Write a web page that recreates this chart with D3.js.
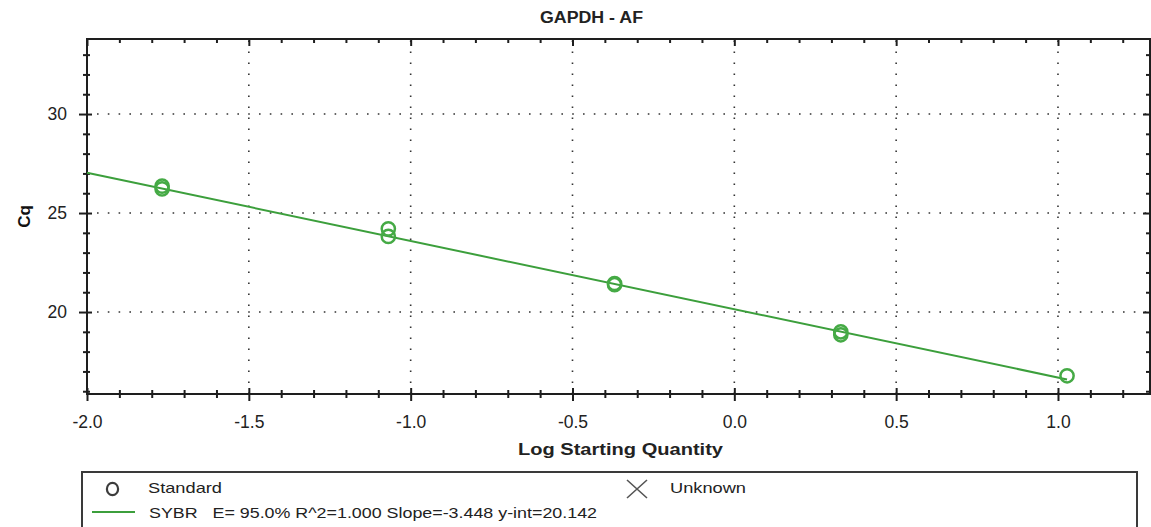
<!DOCTYPE html>
<html>
<head>
<meta charset="utf-8">
<script src="https://cdn.jsdelivr.net/npm/d3@7"></script>
<style>
  html, body { margin: 0; padding: 0; background: #fff; }
  svg { display: block; font-family: "Liberation Sans", Arial, sans-serif; }
</style>
</head>
<body>
<svg id="chart" width="1151" height="527"></svg>
<script>
// ---- data ----
const title = "GAPDH - AF";
const xLabel = "Log Starting Quantity";
const yLabel = "Cq";
const logQty = [-1.768, -1.768, -1.069, -1.069, -0.370, -0.370, 0.329, 0.329, 1.028];
const cqValues = [26.36, 26.22, 24.20, 23.82, 21.44, 21.38, 19.00, 18.85, 16.78];
const fitSlope = -3.448;
const fitIntercept = 20.142;
const xMajorTicks = [-2.0, -1.5, -1.0, -0.5, 0.0, 0.5, 1.0];
const xMinorTicks = [-1.9,-1.8,-1.7,-1.6,-1.4,-1.3,-1.2,-1.1,-0.9,-0.8,-0.7,-0.6,-0.4,-0.3,-0.2,-0.1,0.1,0.2,0.3,0.4,0.6,0.7,0.8,0.9,1.1,1.2];
const yMajorTicks = [20, 25, 30];
const yMinorTicks = [16,17,18,19,21,22,23,24,26,27,28,29,31,32,33];
const legendStandard = "Standard";
const legendUnknown = "Unknown";
const legendFit = "SYBR   E= 95.0% R^2=1.000 Slope=-3.448 y-int=20.142";

// ---- layout ----
const L = 87, R = 1150, T = 39, B = 394;
const svg = d3.select("#chart");
const x = d3.scaleLinear().domain([-2.0, 1.2843]).range([L, R]);
const y = d3.scaleLinear().domain([15.86, 33.79]).range([B, T]);
const axisColor = "#1e1e1e";
const green = "#3c9f3c";
const fmtX = d => d.toFixed(1);

// grid (dotted)
const grid = svg.append("g");
grid.selectAll("line.gx").data(xMajorTicks.filter(d => d > -2)).join("line")
  .attr("x1", d => x(d)).attr("x2", d => x(d)).attr("y1", B).attr("y2", T)
  .attr("stroke", "#333").attr("stroke-width", 1.6).attr("stroke-dasharray", "1.6,9.4");
grid.selectAll("line.gy").data(yMajorTicks).join("line")
  .attr("x1", L + 10).attr("x2", R).attr("y1", d => y(d)).attr("y2", d => y(d))
  .attr("stroke", "#333").attr("stroke-width", 1.6).attr("stroke-dasharray", "1.6,9.2");

// frame
svg.append("rect").attr("x", L).attr("y", T).attr("width", R - L).attr("height", B - T)
  .attr("fill", "none").attr("stroke", axisColor).attr("stroke-width", 2);

// bottom axis: labels + crossing ticks
const bMaj = svg.append("g").attr("transform", `translate(0,${B})`)
  .call(d3.axisBottom(x).tickValues(xMajorTicks).tickSize(6).tickFormat(fmtX));
bMaj.select(".domain").remove();
bMaj.selectAll(".tick line").attr("y1", -6).attr("y2", 7).attr("stroke", axisColor).attr("stroke-width", 2);
bMaj.selectAll(".tick text").attr("y", 0).attr("dy", 0).attr("transform", "translate(0,34)")
  .attr("font-size", 17.5).attr("fill", "#222").attr("font-family", "Liberation Sans, Arial, sans-serif");
const bMin = svg.append("g").attr("transform", `translate(0,${B})`)
  .call(d3.axisBottom(x).tickValues(xMinorTicks).tickSize(4).tickFormat(""));
bMin.select(".domain").remove();
bMin.selectAll(".tick line").attr("y1", -4).attr("y2", 4).attr("stroke", axisColor).attr("stroke-width", 2);

// top axis: inward ticks
const tMaj = svg.append("g").attr("transform", `translate(0,${T})`)
  .call(d3.axisTop(x).tickValues(xMajorTicks).tickSize(-7).tickFormat(""));
tMaj.select(".domain").remove();
tMaj.selectAll(".tick line").attr("stroke", axisColor).attr("stroke-width", 2);
const tMin = svg.append("g").attr("transform", `translate(0,${T})`)
  .call(d3.axisTop(x).tickValues(xMinorTicks).tickSize(-4).tickFormat(""));
tMin.select(".domain").remove();
tMin.selectAll(".tick line").attr("stroke", axisColor).attr("stroke-width", 2);

// left axis
const lMaj = svg.append("g").attr("transform", `translate(${L},0)`)
  .call(d3.axisLeft(y).tickValues(yMajorTicks).tickSize(8).tickFormat(d3.format("d")));
lMaj.select(".domain").remove();
lMaj.selectAll(".tick line").attr("x1", -8).attr("x2", 5).attr("stroke", axisColor).attr("stroke-width", 2);
lMaj.selectAll(".tick text").attr("x", -20).attr("dy", "0.34em")
  .attr("font-size", 17.5).attr("fill", "#222").attr("font-family", "Liberation Sans, Arial, sans-serif");
const lMin = svg.append("g").attr("transform", `translate(${L},0)`)
  .call(d3.axisLeft(y).tickValues(yMinorTicks).tickSize(4).tickFormat(""));
lMin.select(".domain").remove();
lMin.selectAll(".tick line").attr("x1", -4).attr("x2", 3).attr("stroke", axisColor).attr("stroke-width", 2);

// right axis: inward ticks
const rMaj = svg.append("g").attr("transform", `translate(${R},0)`)
  .call(d3.axisRight(y).tickValues(yMajorTicks).tickSize(-7).tickFormat(""));
rMaj.select(".domain").remove();
rMaj.selectAll(".tick line").attr("stroke", axisColor).attr("stroke-width", 2);
const rMin = svg.append("g").attr("transform", `translate(${R},0)`)
  .call(d3.axisRight(y).tickValues(yMinorTicks).tickSize(-4).tickFormat(""));
rMin.select(".domain").remove();
rMin.selectAll(".tick line").attr("stroke", axisColor).attr("stroke-width", 2);

// regression line
const xStart = x.domain()[0], xEnd = d3.max(logQty);
const fitPts = [xStart, xEnd].map(v => [v, fitIntercept + fitSlope * v]);
svg.append("path").datum(fitPts)
  .attr("d", d3.line().x(d => x(d[0])).y(d => y(d[1])))
  .attr("fill", "none").attr("stroke", green).attr("stroke-width", 2);

// points
svg.append("g").selectAll("circle").data(logQty.map((v, i) => [v, cqValues[i]])).join("circle")
  .attr("cx", d => x(d[0])).attr("cy", d => y(d[1])).attr("r", 6.6)
  .attr("fill", "none").attr("stroke", "#45aa45").attr("stroke-width", 2.5);

// titles
svg.append("text").attr("x", 591.5).attr("y", 23).attr("text-anchor", "middle")
  .attr("font-size", 16).attr("font-weight", "bold").attr("fill", "#222")
  .attr("textLength", 103).attr("lengthAdjust", "spacingAndGlyphs").text(title);
svg.append("text").attr("x", 620.5).attr("y", 455).attr("text-anchor", "middle")
  .attr("font-size", 17).attr("font-weight", "bold").attr("fill", "#222")
  .attr("textLength", 205).attr("lengthAdjust", "spacingAndGlyphs").text(xLabel);
svg.append("text").attr("transform", "translate(30,216.5) rotate(-90)").attr("text-anchor", "middle")
  .attr("font-size", 17).attr("font-weight", "bold").attr("fill", "#111").text(yLabel);

// legend
const lg = svg.append("g");
lg.append("rect").attr("x", 82).attr("y", 472).attr("width", 1137 - 82).attr("height", 80)
  .attr("fill", "#fff").attr("stroke", "#3a3a3a").attr("stroke-width", 2);
lg.append("ellipse").attr("cx", 112.5).attr("cy", 489).attr("rx", 5.6).attr("ry", 6.2)
  .attr("fill", "none").attr("stroke", "#3d3d3d").attr("stroke-width", 2.2);
lg.append("text").attr("x", 148).attr("y", 492.5).attr("font-size", 15).attr("fill", "#222")
  .attr("textLength", 74).attr("lengthAdjust", "spacingAndGlyphs").text(legendStandard);
lg.append("path").attr("d", "M627,480 L647,498 M647,480 L627,498")
  .attr("stroke", "#555").attr("stroke-width", 1.6).attr("fill", "none");
lg.append("text").attr("x", 670).attr("y", 492.5).attr("font-size", 15).attr("fill", "#222")
  .attr("textLength", 76).attr("lengthAdjust", "spacingAndGlyphs").text(legendUnknown);
lg.append("line").attr("x1", 92).attr("x2", 135).attr("y1", 512).attr("y2", 512)
  .attr("stroke", green).attr("stroke-width", 2);
lg.append("text").attr("x", 149).attr("y", 517.5).attr("font-size", 15).attr("fill", "#222")
  .style("white-space", "pre")
  .attr("textLength", 448).attr("lengthAdjust", "spacingAndGlyphs").text(legendFit);
</script>
</body>
</html>
